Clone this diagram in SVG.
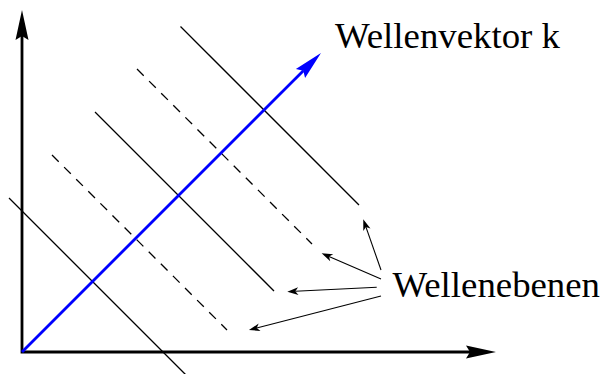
<svg xmlns="http://www.w3.org/2000/svg" width="602" height="374" viewBox="0 0 602 374">
<style>
.axis{fill:none;stroke:#000;stroke-width:2.8}
.plane{stroke:#000;stroke-width:1.3;fill:none}
.dash{stroke-dasharray:9.5 7.6}
.ann{stroke:#000;stroke-width:1.1;fill:none}
.lbl{font-family:"Liberation Serif","Times New Roman",serif;font-size:36.8px;fill:#000}
</style>
<defs>
<marker id="axhead" markerUnits="userSpaceOnUse" orient="auto-start-reverse" refX="0" refY="0" markerWidth="40" markerHeight="20" overflow="visible">
<path d="M26,0 L-4,-6.5 L0,0 L-4,6.5 Z" fill="#000"/>
</marker>
<marker id="bluehead" markerUnits="userSpaceOnUse" orient="auto" refX="0" refY="0" markerWidth="40" markerHeight="20" overflow="visible">
<path d="M25,0 L-4,-6.5 L0,0 L-4,6.5 Z" fill="#0000ff"/>
</marker>
<marker id="small" markerUnits="userSpaceOnUse" orient="auto" refX="0" refY="0" markerWidth="20" markerHeight="10" overflow="visible">
<path d="M8,0 L-3,-3.8 L0,0 L-3,3.8 Z" fill="#000"/>
</marker>
</defs>
<g id="axes">
<path class="axis" d="M22,36 L22,352 L470,352" marker-start="url(#axhead)" marker-end="url(#axhead)"/>
</g>
<g id="wellenebenen-lines">
<line class="plane" x1="9" y1="198" x2="190" y2="379"/>
<line class="plane dash" x1="52" y1="155" x2="227" y2="330"/>
<line class="plane" x1="95" y1="112" x2="274" y2="291"/>
<line class="plane dash" x1="137" y1="69" x2="312" y2="244"/>
<line class="plane" x1="180.5" y1="26.5" x2="359" y2="205"/>
</g>
<g id="wellenvektor">
<line x1="22" y1="352" x2="303.3" y2="70.7" stroke="#0000ff" stroke-width="2.8" marker-end="url(#bluehead)"/>
</g>
<g id="label-wellenvektor">
<text class="lbl" x="335" y="47.5">Wellenvektor k</text>
</g>
<g id="label-wellenebenen">
<text class="lbl" x="392.5" y="297">Wellenebenen</text>
</g>
<g id="connectors">
<line class="ann" x1="381" y1="270" x2="365.9" y2="226.9" marker-end="url(#small)"/>
<line class="ann" x1="381" y1="279" x2="329" y2="256.5" marker-end="url(#small)"/>
<line class="ann" x1="376.7" y1="287.3" x2="295.3" y2="291.3" marker-end="url(#small)"/>
<line class="ann" x1="381" y1="296" x2="256.7" y2="328" marker-end="url(#small)"/>
</g>
</svg>
